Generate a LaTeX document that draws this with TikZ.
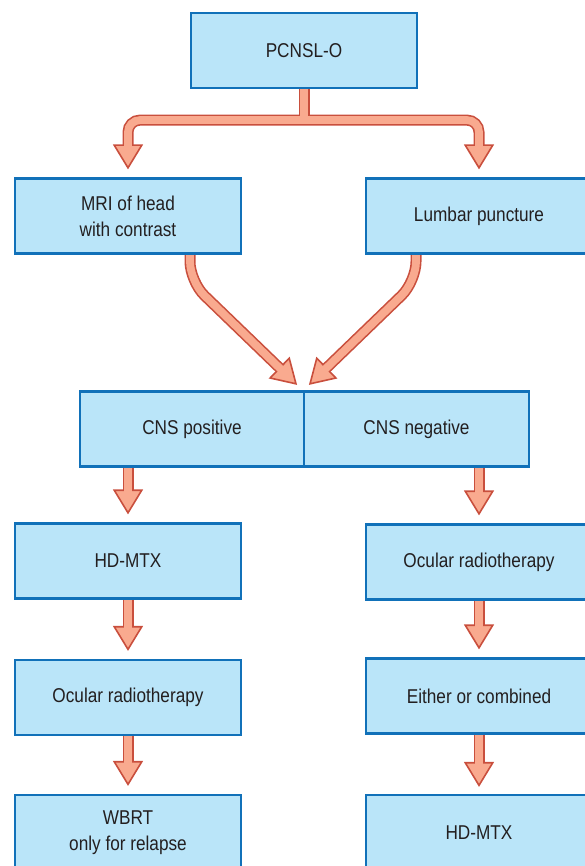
\documentclass[tikz,border=0pt]{standalone}
\usepackage{fontspec}
\setmainfont{Liberation Sans}[FakeStretch=0.86]
\usetikzlibrary{arrows.meta}
\pgfdeclarelayer{bg}
\pgfsetlayers{bg,main}
\definecolor{boxfill}{HTML}{BAE5F9}
\definecolor{boxline}{HTML}{1171B9}
\definecolor{arrfill}{HTML}{F9AA8F}
\definecolor{arrline}{HTML}{C94F3D}
\definecolor{txt}{HTML}{231F20}
\tikzset{
  box/.style={draw=boxline, fill=boxfill, line width=2.2pt, minimum width=226pt,
    minimum height=75pt, inner sep=0pt, text=txt, align=center,
    font=\fontsize{20}{26}\selectfont},
  bigtri/.tip={Triangle[length=25pt,width=30pt,line width=1.6pt,fill=arrfill]},
  fatout/.style={line width=11pt, arrline},
  fatin/.style={line width=7.8pt, arrfill},
}
\newcommand\fatarr[1]{\draw[fatout,-{bigtri}] #1; \draw[fatin,shorten >=22pt] #1;}
\begin{document}
\begin{tikzpicture}[x=1pt,y=-1pt]
\useasboundingbox (0,0) rectangle (584,866);
\node[box] (top) at (304,50.5) {PCNSL-O};
\node[box] (mri) at (128,216) {MRI of head\\with contrast};
\node[box] (lp) at (479,216) {Lumbar puncture};
\node[box, minimum width=224pt] (cnsp) at (192,429) {\raisebox{4pt}{CNS positive}};
\node[box, minimum width=225pt] (cnsn) at (416.5,429) {\raisebox{4pt}{CNS negative}};
\node[box] (hd1) at (128,561) {HD-MTX};
\node[box] (or2) at (479,562) {Ocular radiotherapy};
\node[box] (or1) at (128,697.5) {Ocular radiotherapy};
\node[box] (eoc) at (479,696) {Either or combined};
\node[box] (wbrt) at (128,832.5) {WBRT\\only for relapse};
\node[box] (hd2) at (479,832.5) {HD-MTX};
\coordinate (bar) at ([yshift=-31pt]top.south);
\begin{pgfonlayer}{bg}
  % split arrow from the top box
  \draw[fatout] (top.south) -- (bar);
  \draw[fatout,rounded corners=12pt,{bigtri}-{bigtri}] ([yshift=8pt]mri.north) |- (bar) -| ([yshift=8pt]lp.north);
  \draw[fatin,rounded corners=12pt,shorten <=22pt,shorten >=22pt] ([yshift=8pt]mri.north) |- (bar) -| ([yshift=8pt]lp.north);
  \draw[fatin] (top.south) -- (bar);
  % converging arrows
  \draw[fatout,rounded corners=20pt,-{bigtri}] ([xshift=62pt]mri.south) -- ++(0,27) -- ([shift={(-8pt,5.5pt)}]cnsp.north east);
  \draw[fatout,rounded corners=20pt,-{bigtri}] ([xshift=-63pt]lp.south) -- ++(0,27) -- ([shift={(6pt,5.5pt)}]cnsn.north west);
  \draw[fatin,rounded corners=20pt,shorten >=22pt] ([xshift=62pt]mri.south) -- ++(0,27) -- ([shift={(-8pt,5.5pt)}]cnsp.north east);
  \draw[fatin,rounded corners=20pt,shorten >=22pt] ([xshift=-63pt]lp.south) -- ++(0,27) -- ([shift={(6pt,5.5pt)}]cnsn.north west);
  % straight arrows
  \fatarr{(cnsp.south -| hd1.north) -- ([yshift=8pt]hd1.north)}
  \fatarr{(cnsn.south -| or2.north) -- ([yshift=8pt]or2.north)}
  \fatarr{(hd1.south) -- ([yshift=8pt]or1.north)}
  \fatarr{(or1.south) -- ([yshift=8pt]wbrt.north)}
  \fatarr{(or2.south) -- ([yshift=8pt]eoc.north)}
  \fatarr{(eoc.south) -- ([yshift=7pt]hd2.north)}
\end{pgfonlayer}
\end{tikzpicture}
\end{document}
